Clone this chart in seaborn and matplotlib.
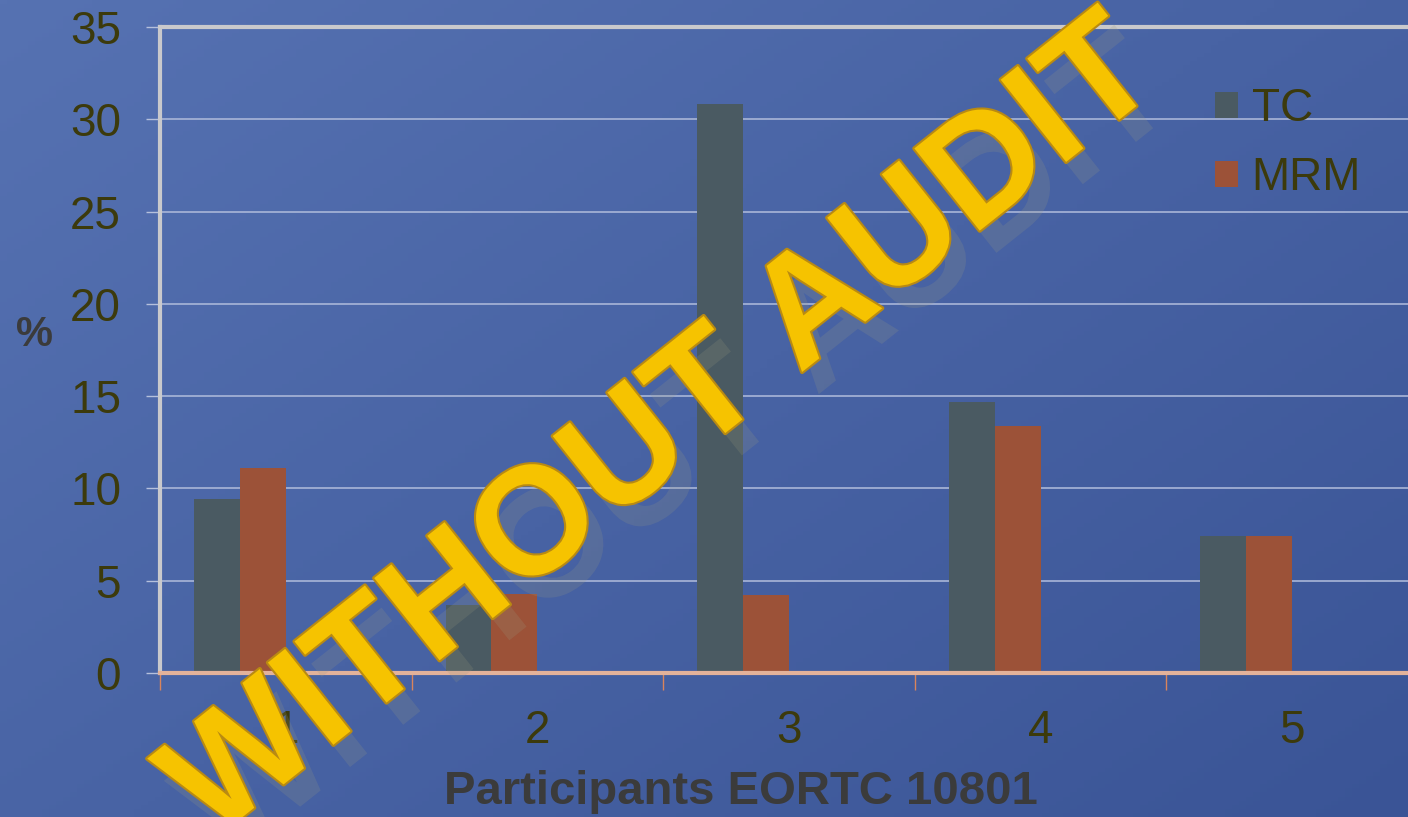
import numpy as np
import pandas as pd
import matplotlib
matplotlib.use("Agg")
import matplotlib.pyplot as plt
import matplotlib.patheffects as pe
from matplotlib.patches import Patch
from matplotlib.ticker import MultipleLocator, FixedLocator
import seaborn as sns

participants = ["1", "2", "3", "4", "5"]
tc = [9.4, 3.7, 30.8, 14.7, 7.4]
mrm = [11.1, 4.3, 4.2, 13.4, 7.4]
series = ["TC", "MRM"]
colors = {"TC": "#4a5a62", "MRM": "#9c5238"}

df = pd.DataFrame({
    "Participant": participants * 2,
    "Value": tc + mrm,
    "Series": ["TC"] * len(tc) + ["MRM"] * len(mrm),
})

sns.set_theme(style="white")
plt.rcParams["font.family"] = ["Liberation Sans", "DejaVu Sans"]

fig = plt.figure(figsize=(14.08, 8.17), dpi=100)

# blue gradient background
bg = fig.add_axes([0, 0, 1, 1], zorder=-5)
yy, xx = np.mgrid[0:1:200j, 0:1:200j]
t = 0.55 * xx + 0.45 * yy
c0 = np.array([86, 114, 178]) / 255
c1 = np.array([58, 84, 150]) / 255
img = c0[None, None, :] * (1 - t[..., None]) + c1[None, None, :] * t[..., None]
bg.imshow(img, aspect="auto", extent=[0, 1, 0, 1])
bg.axis("off")

ax = fig.add_axes([0.1136, 0.1763, 0.8935, 0.7907])
ax.set_facecolor("none")

# two empty hue slots keep the bars to the left of each category, as in the original
sns.barplot(data=df, x="Participant", y="Value", hue="Series",
            hue_order=series + ["_a", "_b"], palette={**colors, "_a": "k", "_b": "k"},
            width=0.73, dodge=True, legend=False, ax=ax, saturation=1,
            linewidth=0, edgecolor="none")

ax.set_ylim(0, 35)
ax.set_xlim(-0.5, 4.5)
ax.yaxis.set_major_locator(MultipleLocator(5))
ax.grid(axis="y", color="#a9b6d8", lw=1.2)
ax.set_axisbelow(True)

for s in ["left", "top"]:
    ax.spines[s].set_color("#c9c9cc")
    ax.spines[s].set_linewidth(3)
ax.spines["bottom"].set_color("#e3b29a")
ax.spines["bottom"].set_linewidth(3)
ax.spines["right"].set_visible(False)

lbl = "#3c3a0c"
ax.tick_params(axis="y", direction="out", length=10, width=1, color="#b5c0dc",
               labelsize=33, labelcolor=lbl, pad=18, left=True)
ax.tick_params(axis="x", which="major", length=0, labelsize=33, labelcolor=lbl, pad=26)
ax.xaxis.set_minor_locator(FixedLocator(np.arange(-0.5, 4.6, 1)))
ax.tick_params(axis="x", which="minor", direction="out", length=12, width=1,
               color="#d9845c", bottom=True)

ax.set_xlabel("Participants EORTC 10801", fontsize=34, fontweight="bold",
              color="#3b3b3b", va="center")
ax.xaxis.set_label_coords(0.462, -0.184)
ax.set_ylabel("%", fontsize=30, fontweight="bold", color="#3b3b3b",
              rotation=0, va="center", ha="center")
ax.yaxis.set_label_coords(-0.1, 0.523)

handles = [Patch(facecolor=colors[s], edgecolor="none", label=s) for s in series]
fig.legend(handles=handles, loc="upper left", bbox_to_anchor=(1192 / 1408, 1 - 64 / 817),
           frameon=False, fontsize=33, labelcolor=lbl, handlelength=0.5,
           handleheight=0.5, handletextpad=0.3, labelspacing=0.55, borderpad=0)

# watermark
fig.text(664 / 1408, 1 - 432 / 817, "WITHOUT AUDIT", fontsize=110, fontweight="bold",
         color="#f6c300", rotation=38.5, rotation_mode="anchor", ha="center", va="center",
         path_effects=[pe.withSimplePatchShadow(offset=(12, -16), shadow_rgbFace="#9a9a80", alpha=0.2),
                       pe.Stroke(linewidth=3, foreground="#b98a12"), pe.Normal()])

fig.savefig("out.png", dpi=100)
